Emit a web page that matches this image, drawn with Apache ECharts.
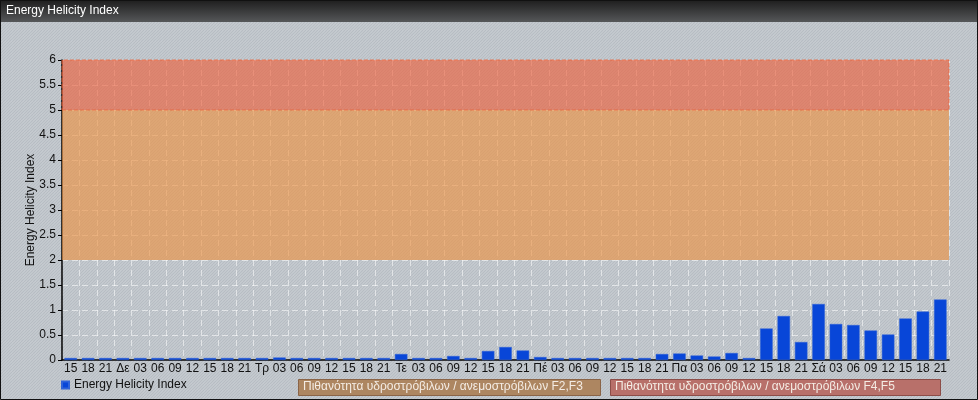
<!DOCTYPE html>
<html><head><meta charset="utf-8">
<script src="https://cdn.jsdelivr.net/npm/echarts@6/dist/echarts.min.js"></script>
<style>html,body{margin:0;padding:0;background:#000}#c{width:978px;height:400px}</style>
</head><body><div id="c"></div>
<script>
const categories = ["15","18","21","Δε","03","06","09","12","15","18","21","Τρ","03","06","09","12","15","18","21","Τε","03","06","09","12","15","18","21","Πέ","03","06","09","12","15","18","21","Πα","03","06","09","12","15","18","21","Σά","03","06","09","12","15","18","21"];
const ehiValues = [0.03,0.02,0.03,0.01,0.01,0.01,0.02,0.03,0.03,0.01,0.02,0.03,0.05,0.04,0.04,0.02,0.02,0.02,0.02,0.12,0.02,0.02,0.08,0.02,0.18,0.26,0.19,0.06,0.02,0.02,0.02,0.01,0.02,0.04,0.12,0.13,0.09,0.07,0.14,0.02,0.63,0.88,0.36,1.12,0.72,0.70,0.59,0.51,0.83,0.97,1.21];
const yTicks = [0,0.5,1,1.5,2,2.5,3,3.5,4,4.5,5,5.5,6];
const bandF23 = [2,5];
const bandF45 = [5,6];
const seriesName = "Energy Helicity Index";
const bandLabels = ["Πιθανότητα υδροστρόβιλων / ανεμοστρόβιλων F2,F3","Πιθανότητα υδροστρόβιλων / ανεμοστρόβιλων F4,F5"];

// striped background pattern
const pc = document.createElement('canvas');
pc.width = 6; pc.height = 6;
const g = pc.getContext('2d');
g.fillStyle = '#c9ced3'; g.fillRect(0,0,6,6);
g.strokeStyle = '#b6bcc3'; g.lineWidth = 1.2;
for (let k=-6;k<=12;k+=3){ g.beginPath(); g.moveTo(k,6); g.lineTo(k+6,0); g.stroke(); }

const chart = echarts.init(document.getElementById('c'), null, {renderer:'canvas'});
const font = 'Liberation Sans, Arial, sans-serif';
chart.setOption({
  animation:false,
  backgroundColor:{image:pc, repeat:'repeat'},
  textStyle:{fontFamily:font},
  grid:{left:62,right:29,top:60,bottom:40,containLabel:false},
  legend:{
    left:56, top:374, itemWidth:7, itemHeight:7, icon:'rect', itemGap:6,
    textStyle:{fontSize:12,color:'#111',fontFamily:font},
    data:[seriesName]
  },
  xAxis:{
    type:'category', data:categories,
    axisLine:{lineStyle:{color:'#000',width:1.5}},
    axisTick:{show:false},
    axisLabel:{interval:0,color:'#111',fontSize:12,margin:3,fontFamily:font},
    splitLine:{show:true,lineStyle:{color:'rgba(255,255,255,0.55)',type:[6,4],width:1}}
  },
  yAxis:{
    type:'value', min:0, max:6, interval:0.5,
    name:'Energy Helicity Index', nameLocation:'middle', nameGap:25, nameMoveOverlap:false,
    nameTextStyle:{fontSize:12,color:'#111',fontFamily:font},
    axisLine:{show:true,lineStyle:{color:'#000',width:1.5}},
    axisTick:{show:true,length:4,lineStyle:{color:'#000'}},
    axisLabel:{color:'#111',fontSize:12,margin:6,fontFamily:font,formatter:v=>String(v)},
    splitLine:{show:true,lineStyle:{color:'rgba(255,255,255,0.55)',type:[6,4],width:1}}
  },
  series:[{
    name:seriesName, type:'bar', data:ehiValues,
    barCategoryGap:'28%', barMinHeight:2,
    itemStyle:{color:'#0846d8',borderColor:'#2f63d8',borderWidth:0.5},
    markArea:{
      silent:true,
      data:[
        [{yAxis:bandF23[0],itemStyle:{color:'rgba(236,145,65,0.64)'}},{yAxis:bandF23[1]}],
        [{yAxis:bandF45[0],itemStyle:{color:'rgba(236,95,60,0.64)',borderColor:'rgba(230,100,60,0.8)',borderWidth:1,borderType:'dashed'}},{yAxis:bandF45[1]}]
      ]
    },
    z:3
  }],
  graphic:[
    {type:'rect',left:0,top:0,shape:{width:978,height:22},z:10,
      style:{fill:new echarts.graphic.LinearGradient(0,0,0,1,[{offset:0,color:'#1e1e1e'},{offset:1,color:'#555759'}])}},
    {type:'text',left:6,top:5,z:11,style:{text:'Energy Helicity Index',fill:'#fff',font:'12px '+font}},
    {type:'rect',x:0.5,y:0.5,shape:{width:977,height:399},z:12,silent:true,
      style:{fill:null,stroke:'#111',lineWidth:1}},
    {type:'rect',left:298,top:379,shape:{width:302,height:16},z:10,
      style:{fill:'#ad8661',stroke:'#8a6447',lineWidth:1}},
    {type:'text',left:303,top:381,z:11,style:{text:bandLabels[0],fill:'#f4ece4',font:'12px '+font}},
    {type:'rect',left:610,top:379,shape:{width:330,height:16},z:10,
      style:{fill:'#b8706a',stroke:'#8c4d48',lineWidth:1}},
    {type:'text',left:615,top:381,z:11,style:{text:bandLabels[1],fill:'#f4ece4',font:'12px '+font}}
  ]
});
</script></body></html>
